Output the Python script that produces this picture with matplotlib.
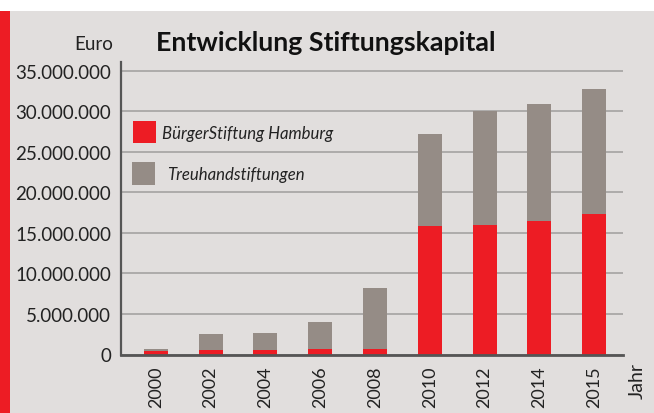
import matplotlib.pyplot as plt
from matplotlib.patches import Rectangle
from matplotlib.ticker import FuncFormatter, MultipleLocator

# data (Euro)
years = ["2000", "2002", "2004", "2006", "2008", "2010", "2012", "2014", "2015"]
buergerstiftung = [450000, 500000, 520000, 650000, 650000, 15830000, 15950000, 16440000, 17400000]
treuhand_total = [680000, 2500000, 2650000, 4000000, 8200000, 27200000, 30000000, 30900000, 32750000]
treuhand = [t - b for t, b in zip(treuhand_total, buergerstiftung)]

RED = "#ed1c24"
GREY = "#958c86"
BG = "#e1dedd"
FONT = "Lato"

plt.rcParams["font.family"] = [FONT, "DejaVu Sans"]

fig = plt.figure(figsize=(6.54, 4.14), dpi=100, facecolor="white")
# background panel + red stripe on the left
fig.patches.append(Rectangle((0, 0), 1, 402 / 414, transform=fig.transFigure,
                             facecolor=BG, edgecolor="none", zorder=-10))
fig.patches.append(Rectangle((0, 0), 10 / 654, 402 / 414, transform=fig.transFigure,
                             facecolor=RED, edgecolor="none", zorder=-9))

ax = fig.add_axes([121 / 654, 58.5 / 414, 502 / 654, 292.5 / 414])
ax.set_facecolor("none")

x = range(len(years))
ax.bar(x, buergerstiftung, width=0.44, color=RED, zorder=3)
ax.bar(x, treuhand, width=0.44, bottom=buergerstiftung, color=GREY, zorder=3)

ax.set_xlim(-0.636, len(years) - 1 + 0.527)
ax.set_ylim(0, 36100000)
ax.yaxis.set_major_locator(MultipleLocator(5000000))
ax.yaxis.set_major_formatter(FuncFormatter(lambda v, p: f"{int(v):,}".replace(",", ".")))
ax.grid(axis="y", color="#a9a7a6", linewidth=1.3, zorder=1)
ax.set_axisbelow(True)

for s in ["top", "right"]:
    ax.spines[s].set_visible(False)
ax.spines["left"].set_color("#555555")
ax.spines["left"].set_linewidth(1.6)
ax.spines["bottom"].set_color("#555555")
ax.spines["bottom"].set_linewidth(2)
ax.spines["bottom"].set_zorder(4)

ax.set_xticks(list(x))
ax.set_xticklabels(years, rotation=90, fontsize=13, color="#222222")
ax.tick_params(axis="x", length=0, pad=8)
ax.tick_params(axis="y", length=0, pad=7, labelsize=13.5, labelcolor="#222222")

fig.text(113 / 654, 1 - 44 / 414, "Euro", ha="right", va="center", fontsize=13.5, color="#222222")
fig.text(156 / 654, 1 - 43 / 414, "Entwicklung Stiftungskapital", ha="left", va="center",
         fontsize=19.3, fontweight="bold", color="#111111")
fig.text(637 / 654, 1 - 381 / 414, "Jahr", rotation=90, ha="center", va="center",
         fontsize=14, color="#222222")

# legend drawn by hand
fig.patches.append(Rectangle((133 / 654, 1 - 144 / 414), 23 / 654, 22 / 414,
                             transform=fig.transFigure, facecolor=RED, edgecolor="none"))
fig.patches.append(Rectangle((132 / 654, 1 - 186 / 414), 23 / 654, 23 / 414,
                             transform=fig.transFigure, facecolor=GREY, edgecolor="none"))
fig.text(162 / 654, 1 - 134 / 414, "BürgerStiftung Hamburg", ha="left", va="center",
         fontsize=12.1, style="italic", color="#222222")
fig.text(167 / 654, 1 - 175 / 414, "Treuhandstiftungen", ha="left", va="center",
         fontsize=12.1, style="italic", color="#222222")

fig.savefig("out.png", dpi=100, facecolor="white")
